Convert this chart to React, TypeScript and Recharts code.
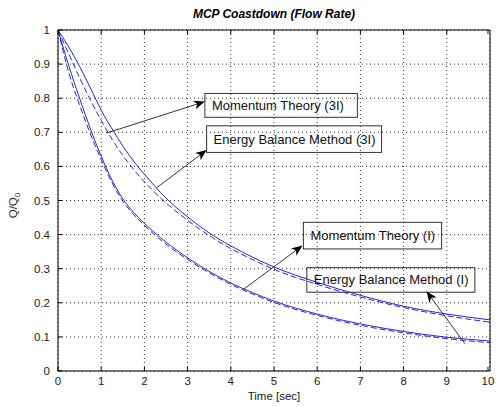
import React from "react";
import {
  LineChart,
  Line,
  XAxis,
  YAxis,
  CartesianGrid,
  ReferenceLine,
  ReferenceArea,
} from "recharts";

// time axis (sec) and normalised flow Q/Q0 for each model
const time = [0, 0.25, 0.5, 0.75, 1, 1.25, 1.5, 1.75, 2, 2.5, 3, 3.5, 4, 4.5, 5, 6, 7, 8, 9, 10];
const momentum3I = [1, 0.95, 0.893, 0.83, 0.765, 0.71, 0.66, 0.615, 0.577, 0.507, 0.452, 0.405, 0.367, 0.334, 0.305, 0.26, 0.222, 0.19, 0.167, 0.15];
const energy3I = [1, 0.93, 0.86, 0.795, 0.735, 0.68, 0.632, 0.591, 0.555, 0.493, 0.442, 0.397, 0.359, 0.327, 0.298, 0.254, 0.217, 0.186, 0.162, 0.143];
const momentumI = [1, 0.895, 0.8, 0.71, 0.63, 0.56, 0.505, 0.465, 0.433, 0.378, 0.332, 0.292, 0.258, 0.23, 0.205, 0.167, 0.138, 0.116, 0.099, 0.088];
const energyI = [1, 0.875, 0.78, 0.695, 0.62, 0.552, 0.498, 0.459, 0.427, 0.372, 0.327, 0.288, 0.254, 0.226, 0.201, 0.163, 0.134, 0.112, 0.095, 0.083];

const xTicks = [0, 1, 2, 3, 4, 5, 6, 7, 8, 9, 10];
const yTicks = [0, 0.1, 0.2, 0.3, 0.4, 0.5, 0.6, 0.7, 0.8, 0.9, 1];

// annotation text boxes (data coords) and their arrows
const notes = ["Momentum Theory (3I)", "Energy Balance Method (3I)", "Momentum Theory (I)", "Energy Balance Method (I)"];
const noteBoxes = [
  { x1: 3.4, x2: 6.93, y1: 0.744, y2: 0.814 },
  { x1: 3.44, x2: 7.49, y1: 0.641, y2: 0.719 },
  { x1: 5.68, x2: 8.88, y1: 0.358, y2: 0.436 },
  { x1: 5.76, x2: 9.65, y1: 0.231, y2: 0.303 },
];
const noteArrows = [
  [{ x: 1.13, y: 0.698 }, { x: 3.4, y: 0.79 }],
  [{ x: 2.28, y: 0.537 }, { x: 3.44, y: 0.648 }],
  [{ x: 4.29, y: 0.239 }, { x: 5.66, y: 0.368 }],
  [{ x: 9.42, y: 0.08 }, { x: 8.53, y: 0.234 }],
];

const rows = time.map((t, i) => ({
  t,
  m3: momentum3I[i],
  e3: energy3I[i],
  m1: momentumI[i],
  e1: energyI[i],
}));

const FONT = "'Liberation Sans', Arial, sans-serif";
const BLUE = "#2727d2";

function BottomTick(props: any) {
  const { x, y, payload } = props;
  return (
    <g>
      <line x1={x} y1={y} x2={x} y2={y - 4} stroke="#000" />
      <text x={x} y={y + 14} textAnchor="middle" fontSize={11.5} fontFamily={FONT} fill="#222">
        {payload.value}
      </text>
    </g>
  );
}

function TopTick(props: any) {
  const { x, y } = props;
  return <line x1={x} y1={y} x2={x} y2={y + 4} stroke="#000" />;
}

function LeftTick(props: any) {
  const { x, y, payload } = props;
  return (
    <g>
      <line x1={x} y1={y} x2={x + 4} y2={y} stroke="#000" />
      <text x={x - 8} y={y + 4} textAnchor="end" fontSize={11.5} fontFamily={FONT} fill="#222">
        {payload.value}
      </text>
    </g>
  );
}

function RightTick(props: any) {
  const { x, y } = props;
  return <line x1={x} y1={y} x2={x - 4} y2={y} stroke="#000" />;
}

function TitleLabel(props: any) {
  const vb = props.viewBox;
  return (
    <text x={vb.x + vb.width / 2} y={18} textAnchor="middle" fontSize={12} fontWeight="bold" fontStyle="italic" fontFamily={FONT} fill="#000">
      MCP Coastdown (Flow Rate)
    </text>
  );
}

function XLabel(props: any) {
  const vb = props.viewBox;
  return (
    <text x={vb.x + vb.width / 2} y={vb.y + 29} textAnchor="middle" fontSize={11.5} fontFamily={FONT} fill="#222">
      Time [sec]
    </text>
  );
}

function YLabel(props: any) {
  const vb = props.viewBox;
  const cx = 16.5;
  const cy = vb.y + vb.height / 2 + 5;
  return (
    <text x={cx} y={cy} transform={`rotate(-90, ${cx}, ${cy})`} textAnchor="middle" fontSize={11.5} fontFamily={FONT} fill="#333">
      <tspan>Q/Q</tspan>
      <tspan dy={3} fontSize={8}>0</tspan>
    </text>
  );
}

function NoteBox(text: string) {
  return (props: any) => {
    const { x, y, width, height } = props;
    return (
      <g>
        <rect x={x} y={y} width={width} height={height} fill="none" stroke="#333" strokeWidth={1} />
        <text x={x + 7} y={y + height / 2 + 4.5} fontSize={13} fontFamily={FONT} fill="#111">
          {text}
        </text>
      </g>
    );
  };
}

function Arrow(props: any) {
  const { x1, y1, x2, y2 } = props;
  const dx = x2 - x1;
  const dy = y2 - y1;
  const len = Math.hypot(dx, dy) || 1;
  const ux = dx / len;
  const uy = dy / len;
  const px = -uy;
  const py = ux;
  const L = 11;
  const W = 4.5;
  const B = 8;
  const bx = x2 - ux * L;
  const by = y2 - uy * L;
  const ix = x2 - ux * B;
  const iy = y2 - uy * B;
  const pts = `${x2},${y2} ${bx + px * W},${by + py * W} ${ix},${iy} ${bx - px * W},${by - py * W}`;
  return (
    <g>
      <line x1={x1} y1={y1} x2={ix} y2={iy} stroke="#333" strokeWidth={1} />
      <polygon points={pts} fill="#000" />
    </g>
  );
}

export default function App() {
  return (
    <div style={{ position: "absolute", left: 0, top: 0, background: "#fff" }}>
      <LineChart width={496} height={407} data={rows} margin={{ top: 0, right: 0, bottom: 0, left: 0 }}>
        <CartesianGrid stroke="#333" strokeDasharray="1 3" />
        <XAxis
          dataKey="t"
          type="number"
          domain={[0, 10]}
          ticks={xTicks}
          height={36}
          tickSize={0}
          tickMargin={0}
          tick={<BottomTick />}
          axisLine={{ stroke: "#000" }}
          label={<XLabel />}
        />
        <XAxis
          xAxisId="top"
          orientation="top"
          dataKey="t"
          type="number"
          domain={[0, 10]}
          ticks={xTicks}
          height={30}
          tickSize={0}
          tickMargin={0}
          tick={<TopTick />}
          axisLine={{ stroke: "#000" }}
          label={<TitleLabel />}
        />
        <YAxis
          type="number"
          domain={[0, 1]}
          ticks={yTicks}
          width={58}
          tickSize={0}
          tickMargin={0}
          tick={<LeftTick />}
          axisLine={{ stroke: "#000" }}
          label={<YLabel />}
        />
        <YAxis
          yAxisId="right"
          orientation="right"
          type="number"
          domain={[0, 1]}
          ticks={yTicks}
          width={6}
          tickSize={0}
          tickMargin={0}
          tick={<RightTick />}
          axisLine={{ stroke: "#000" }}
        />
        <Line type="monotone" dataKey="m3" stroke={BLUE} strokeWidth={1} dot={false} isAnimationActive={false} />
        <Line type="monotone" dataKey="e3" stroke={BLUE} strokeWidth={1} strokeDasharray="6 3" dot={false} isAnimationActive={false} />
        <Line type="monotone" dataKey="m1" stroke={BLUE} strokeWidth={1} dot={false} isAnimationActive={false} />
        <Line type="monotone" dataKey="e1" stroke={BLUE} strokeWidth={1} strokeDasharray="6 3" dot={false} isAnimationActive={false} />
        {noteBoxes.map((b, i) => (
          <ReferenceArea key={`box${i}`} x1={b.x1} x2={b.x2} y1={b.y1} y2={b.y2} shape={NoteBox(notes[i])} />
        ))}
        {noteArrows.map((seg, i) => (
          <ReferenceLine key={`arr${i}`} segment={seg} shape={Arrow} />
        ))}
      </LineChart>
    </div>
  );
}
